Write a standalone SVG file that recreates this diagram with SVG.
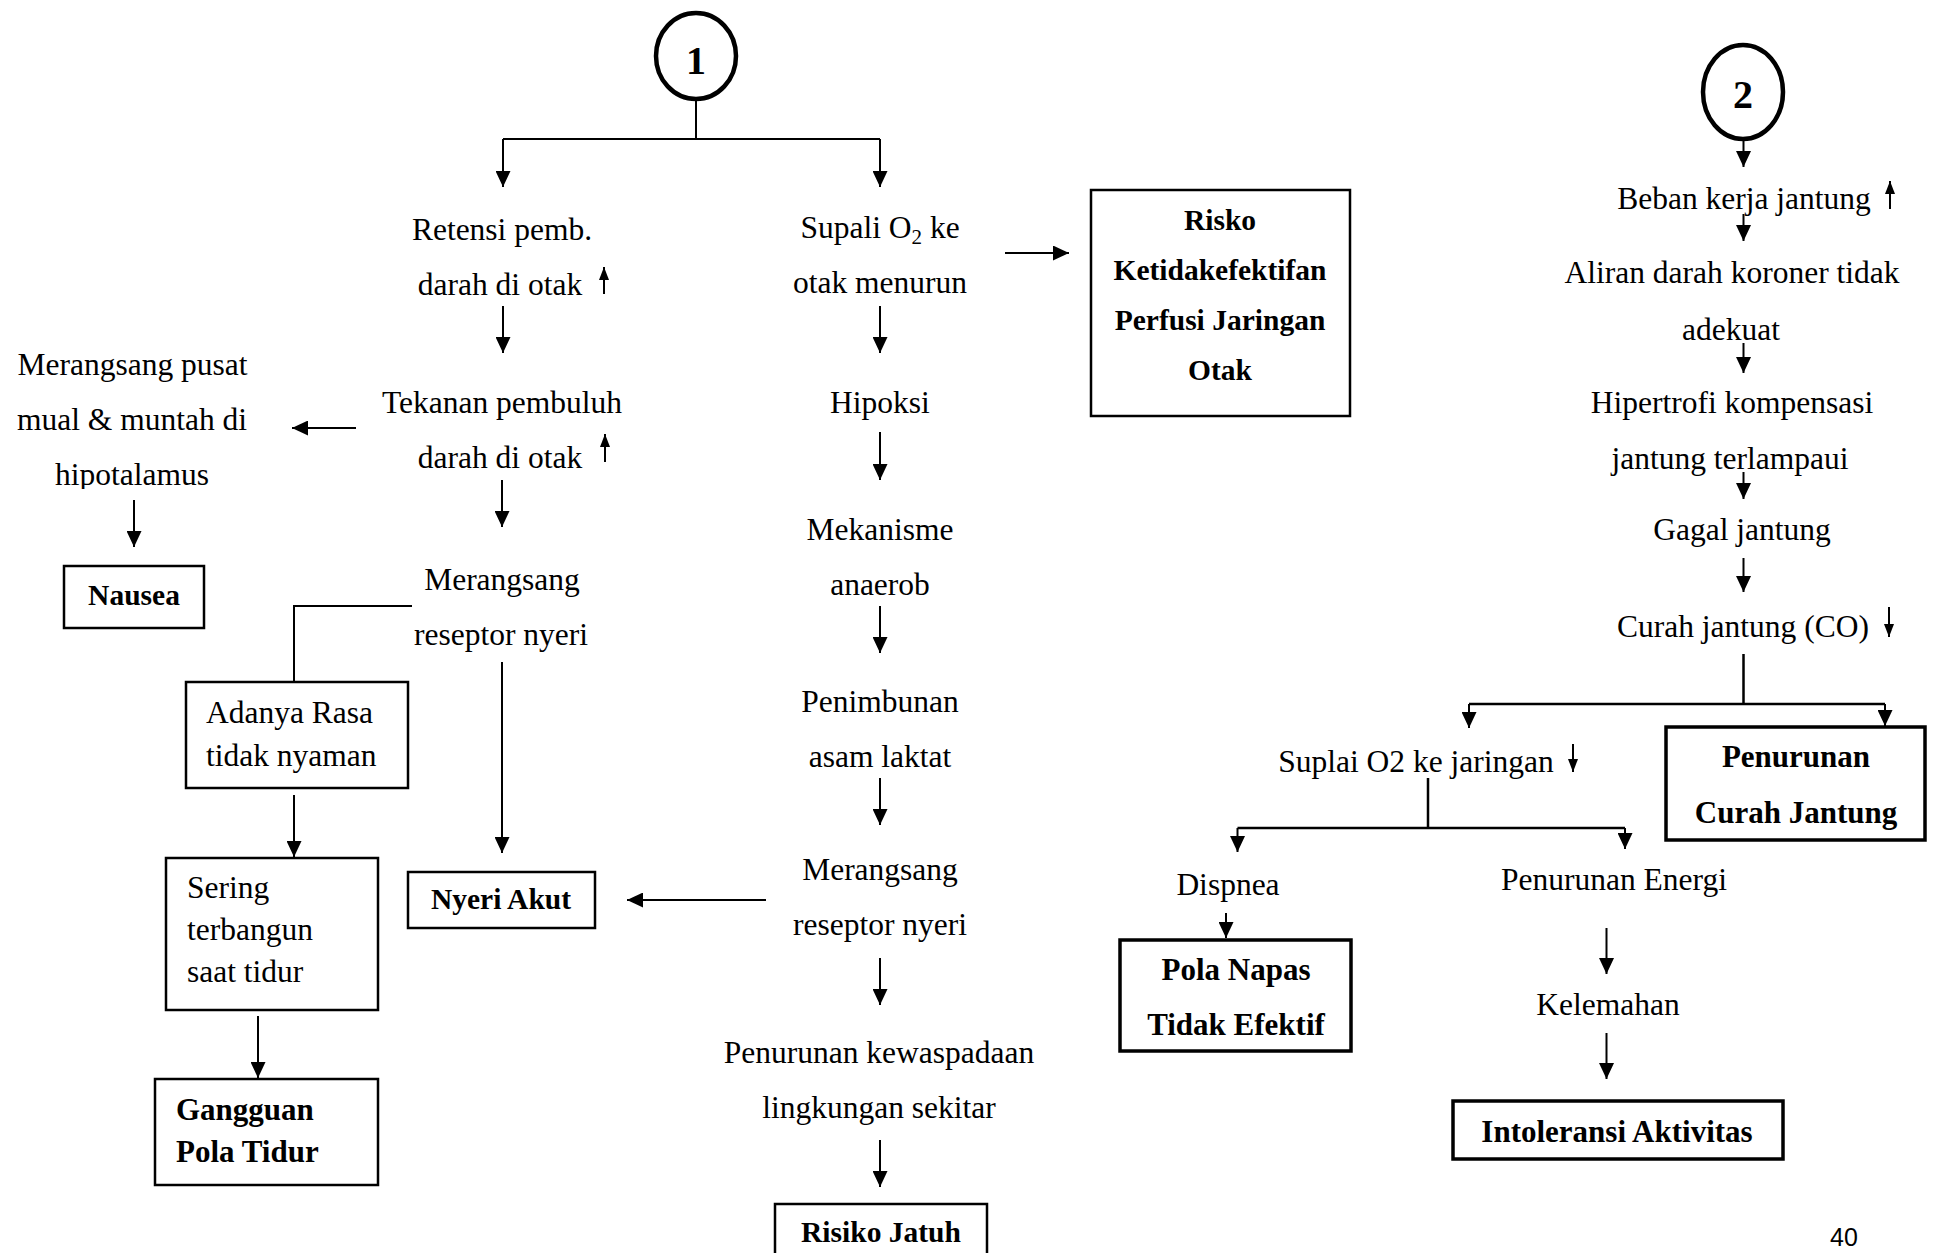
<svg xmlns="http://www.w3.org/2000/svg" width="1936" height="1253" viewBox="0 0 1936 1253">
<style>
text{font-family:"Liberation Serif","Times New Roman",serif;font-size:31.5px;fill:#000}
.c{text-anchor:middle}
.b{font-weight:bold;font-size:31px}
.bs{font-weight:bold;font-size:29.5px}
.box{fill:#fff;stroke:#000;stroke-width:2.5}
.thick{stroke-width:3.5}
.ln{fill:none;stroke:#000;stroke-width:2}
.ar{fill:none;stroke:#000;stroke-width:2;marker-end:url(#ah)}
.sm{fill:none;stroke:#000;stroke-width:2;marker-end:url(#as)}
.circ{fill:#fff;stroke:#000;stroke-width:4.5}
.num{font-weight:bold;font-size:40px;text-anchor:middle}
</style>
<defs>
<marker id="ah" markerUnits="userSpaceOnUse" markerWidth="16" markerHeight="15" viewBox="0 0 16 15" refX="16" refY="7.5" orient="auto"><path d="M0,0 L16,7.5 L0,15 Z" fill="#000"/></marker>
<marker id="as" markerUnits="userSpaceOnUse" markerWidth="13" markerHeight="10" viewBox="0 0 13 10" refX="13" refY="5" orient="auto"><path d="M0,0 L13,5 L0,10 Z" fill="#000"/></marker>
<clipPath id="clipHipo"><rect x="0" y="440" width="300" height="49"/></clipPath>
</defs>
<rect width="1936" height="1253" fill="#fff"/>

<g id="connectors">
<path class="ln" d="M696,99 V139 M503,139 H880"/>
<path class="ar" d="M503,139 V187"/>
<path class="ar" d="M880,139 V187"/>
<path class="ar" d="M503,306 V353"/>
<path class="ar" d="M356,428 H292"/>
<path class="ar" d="M502,480 V527"/>
<path class="ar" d="M134,500 V547"/>
<path class="ln" d="M412,606 H294 V682"/>
<path class="ar" d="M294,795 V857"/>
<path class="ar" d="M258,1016 V1078"/>
<path class="ar" d="M502,662 V853"/>
<path class="ar" d="M1005,253 H1069"/>
<path class="ar" d="M880,306 V353"/>
<path class="ar" d="M880,432 V480"/>
<path class="ar" d="M880,606 V653"/>
<path class="ar" d="M880,778 V825"/>
<path class="ar" d="M766,900 H627"/>
<path class="ar" d="M880,958 V1005"/>
<path class="ar" d="M880,1140 V1187"/>
<path class="ar" d="M1743.5,139 V167"/>
<path class="ar" d="M1743.5,214 V241"/>
<path class="ar" d="M1743.5,343 V373"/>
<path class="ar" d="M1743.5,472 V499"/>
<path class="ar" d="M1743.5,558 V592"/>
<path class="ln" d="M1743.5,654 V704 M1469,704 H1885" style="stroke-width:2.5"/>
<path class="ar" d="M1469,704 V728"/>
<path class="ar" d="M1885,704 V726"/>
<path class="ln" d="M1428,778 V828 M1237.5,828 H1625" style="stroke-width:2.5"/>
<path class="ar" d="M1237.5,828 V852"/>
<path class="ar" d="M1625,828 V849"/>
<path class="ar" d="M1226,913 V938"/>
<path class="ar" d="M1606.5,928 V974"/>
<path class="ar" d="M1606.5,1033 V1079"/>
</g>

<g id="n-circle1"><ellipse class="circ" cx="696" cy="56" rx="40" ry="43"/><text class="num" x="696" y="74">1</text></g>
<g id="n-retensi"><text class="c" x="502" y="240">Retensi pemb.</text><text class="c" x="500" y="295">darah di otak</text><path class="sm" d="M604,294 V267"/></g>
<g id="n-tekanan"><text class="c" x="502" y="413">Tekanan pembuluh</text><text class="c" x="500" y="468">darah di otak</text><path class="sm" d="M605,462 V434"/></g>
<g id="n-merangsang1"><text class="c" x="502" y="590">Merangsang</text><text class="c" x="501" y="645">reseptor nyeri</text></g>
<g id="n-mual"><text class="c" x="132.5" y="375">Merangsang pusat</text><text class="c" x="132" y="430">mual &amp; muntah di</text><text class="c" x="132" y="485" clip-path="url(#clipHipo)">hipotalamus</text></g>
<g id="n-nausea"><rect class="box" x="64" y="566" width="140" height="62"/><text class="c bs" x="134" y="605">Nausea</text></g>
<g id="n-adanya"><rect class="box" x="186" y="682" width="222" height="106"/><text x="206" y="723">Adanya Rasa</text><text x="206" y="766">tidak nyaman</text></g>
<g id="n-sering"><rect class="box" x="166" y="858" width="212" height="152"/><text x="187" y="898">Sering</text><text x="187" y="940">terbangun</text><text x="187" y="982">saat tidur</text></g>
<g id="n-gangguan"><rect class="box" x="155" y="1079" width="223" height="106"/><text class="b" x="176" y="1120">Gangguan</text><text class="b" x="176" y="1162">Pola Tidur</text></g>
<g id="n-nyeri"><rect class="box" x="408" y="872" width="187" height="56"/><text class="c bs" x="501" y="909">Nyeri Akut</text></g>

<g id="n-supali"><text class="c" x="880" y="238">Supali O<tspan font-size="21" dy="6">2</tspan><tspan dy="-6"> ke</tspan></text><text class="c" x="880" y="293">otak menurun</text></g>
<g id="n-risko"><rect class="box" x="1091" y="190" width="259" height="226"/><text class="c bs" x="1220" y="230">Risko</text><text class="c bs" x="1220" y="280">Ketidakefektifan</text><text class="c bs" x="1220" y="330">Perfusi Jaringan</text><text class="c bs" x="1220" y="380">Otak</text></g>
<g id="n-hipoksi"><text class="c" x="880" y="413">Hipoksi</text></g>
<g id="n-mekanisme"><text class="c" x="880" y="540">Mekanisme</text><text class="c" x="880" y="595">anaerob</text></g>
<g id="n-penimbunan"><text class="c" x="880" y="712">Penimbunan</text><text class="c" x="880" y="767">asam laktat</text></g>
<g id="n-merangsang2"><text class="c" x="880" y="880">Merangsang</text><text class="c" x="880" y="935">reseptor nyeri</text></g>
<g id="n-kewaspadaan"><text class="c" x="879" y="1063">Penurunan kewaspadaan</text><text class="c" x="879" y="1118">lingkungan sekitar</text></g>
<g id="n-risikojatuh"><rect class="box" x="775" y="1204" width="212" height="70"/><text class="c bs" x="881" y="1242">Risiko Jatuh</text></g>

<g id="n-circle2"><ellipse class="circ" cx="1743" cy="92" rx="40" ry="47"/><text class="num" x="1743" y="108">2</text></g>
<g id="n-beban"><text class="c" x="1744" y="209">Beban kerja jantung</text><path class="sm" d="M1890,209 V181"/></g>
<g id="n-aliran"><text class="c" x="1732" y="283">Aliran darah koroner tidak</text><text class="c" x="1731" y="340">adekuat</text></g>
<g id="n-hipertrofi"><text class="c" x="1732" y="413">Hipertrofi kompensasi</text><text class="c" x="1730" y="469">jantung terlampaui</text></g>
<g id="n-gagal"><text class="c" x="1742" y="540">Gagal jantung</text></g>
<g id="n-curah"><text class="c" x="1743" y="637">Curah jantung (CO)</text><path class="sm" d="M1889,607 V637"/></g>
<g id="n-penurunancurah"><rect class="box thick" x="1666" y="727" width="259" height="113"/><text class="c b" x="1796" y="767">Penurunan</text><text class="c b" x="1796" y="823">Curah Jantung</text></g>
<g id="n-suplai"><text class="c" x="1416" y="772">Suplai O2 ke jaringan</text><path class="sm" d="M1573,744 V772"/></g>
<g id="n-dispnea"><text class="c" x="1228" y="895">Dispnea</text></g>
<g id="n-polanapas"><rect class="box thick" x="1120" y="940" width="231" height="111"/><text class="c b" x="1236" y="980">Pola Napas</text><text class="c b" x="1236" y="1035">Tidak Efektif</text></g>
<g id="n-energi"><text class="c" x="1614" y="890">Penurunan Energi</text></g>
<g id="n-kelemahan"><text class="c" x="1608" y="1015">Kelemahan</text></g>
<g id="n-intoleransi"><rect class="box thick" x="1453" y="1101" width="330" height="58"/><text class="c b" x="1617" y="1142">Intoleransi Aktivitas</text></g>
<text x="1844" y="1246" style="font-family:'Liberation Sans',Arial,sans-serif;font-size:25px;text-anchor:middle">40</text>
</svg>
